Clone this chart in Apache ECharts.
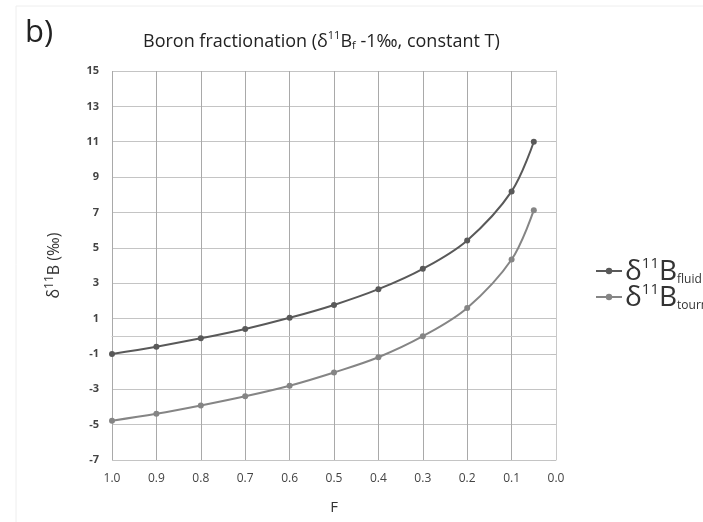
<!DOCTYPE html>
<html>
<head>
<meta charset="utf-8">
<script src="https://cdn.jsdelivr.net/npm/echarts@6/dist/echarts.min.js"></script>
<style>
  html, body { margin: 0; padding: 0; background: #fff; }
  #chart { width: 703px; height: 522px; }
</style>
</head>
<body>
<div id="chart"></div>
<script>
// Remaining fraction of boron in the fluid
const fraction = [1.0, 0.9, 0.8, 0.7, 0.6, 0.5, 0.4, 0.3, 0.2, 0.1, 0.05];
// δ11B of the fluid (‰)
const fluidValues = [-1.0, -0.59, -0.12, 0.41, 1.04, 1.77, 2.66, 3.81, 5.42, 8.19, 11.0];
// δ11B of tourmaline (‰)
const tourmalineValues = [-4.78, -4.39, -3.92, -3.40, -2.80, -2.05, -1.19, 0.0, 1.60, 4.34, 7.13];
// Axis ticks
const xTicks = [1.0, 0.9, 0.8, 0.7, 0.6, 0.5, 0.4, 0.3, 0.2, 0.1, 0.0];
const yTicks = [15, 13, 11, 9, 7, 5, 3, 1, -1, -3, -5, -7];

const fontFamily = "'Open Sans', 'Noto Sans', sans-serif";
const pairs = (ys) => fraction.map((f, i) => [f, ys[i]]);

const legendRich = {
  d: { fontSize: 28, fontFamily, color: '#333', lineHeight: 30, verticalAlign: 'bottom' },
  sup: { fontSize: 15, fontFamily, color: '#333', lineHeight: 30, verticalAlign: 'top' },
  sub: { fontSize: 12, fontFamily, color: '#333', lineHeight: 30, verticalAlign: 'bottom', padding: [10, 0, 0, 0] }
};

const chart = echarts.init(document.getElementById('chart'));
chart.setOption({
  backgroundColor: '#fff',
  animation: false,
  graphic: [
    { type: 'rect', shape: { x: 16, y: 6, width: 700, height: 530 }, style: { fill: 'none', stroke: '#eeeeee', lineWidth: 1 } },
    { type: 'text', left: 25, top: 18, style: { text: 'b)', fontSize: 31, fontFamily, fill: '#222' } }
  ],
  title: {
    text: '{t|Boron fractionation (δ}{s|11}{t|B}{b|f}{t| -1‰, constant T)}',
    left: 138,
    top: 22,
    textStyle: {
      fontWeight: 'normal',
      rich: {
        t: { fontSize: 18, fontWeight: 'normal', fontFamily, color: '#222', lineHeight: 24, verticalAlign: 'bottom' },
        s: { fontSize: 11, fontWeight: 'normal', fontFamily, color: '#222', lineHeight: 24, verticalAlign: 'top', padding: [3, 0, 0, 0] },
        b: { fontSize: 11, fontWeight: 'normal', fontFamily, color: '#222', lineHeight: 24, verticalAlign: 'bottom', padding: [7, 0, 0, 0] }
      }
    }
  },
  legend: {
    orient: 'vertical',
    left: 590,
    top: 251,
    itemWidth: 26,
    itemHeight: 8,
    itemGap: -4,
    data: ['fluid', 'tourmaline'],
    formatter: (name) => '{d|δ}{sup|11}{d|B}{sub|' + name + '}',
    textStyle: { rich: legendRich, padding: [0, 0, 0, -2] }
  },
  grid: { left: 112, right: 147, top: 71, bottom: 62, containLabel: false },
  xAxis: {
    type: 'value',
    inverse: true,
    min: 0,
    max: 1,
    interval: 0.1,
    name: 'F',
    nameLocation: 'middle',
    nameGap: 40,
    nameTextStyle: { fontSize: 15, fontFamily, color: '#333' },
    axisLine: { show: true, lineStyle: { color: '#c8c8c8', width: 1 } },
    axisTick: { show: false },
    axisLabel: { fontSize: 12, fontFamily, color: '#444', margin: 13, formatter: (v) => v.toFixed(1) },
    splitLine: { show: true, lineStyle: { color: '#a9a9a9', width: 1 } }
  },
  yAxis: {
    type: 'value',
    min: -7,
    max: 15,
    interval: 2,
    name: '{t|δ}{s|11}{t|B (‰)}',
    nameLocation: 'middle',
    nameGap: 50,
    nameRotate: 90,
    nameTextStyle: {
      rich: {
        t: { fontSize: 16, fontFamily, color: '#333', lineHeight: 18, verticalAlign: 'bottom' },
        s: { fontSize: 12, fontFamily, color: '#333', lineHeight: 18, verticalAlign: 'top' }
      }
    },
    axisLine: { show: true, lineStyle: { color: '#c8c8c8', width: 1 } },
    axisTick: { show: true, length: 5, lineStyle: { color: '#c0c0c0' } },
    axisLabel: { fontSize: 11, fontWeight: 'bold', fontFamily, color: '#444', margin: 13 },
    splitLine: { show: true, lineStyle: { color: '#c4c4c4', width: 1 } }
  },
  series: [
    {
      name: 'fluid',
      type: 'line',
      data: pairs(fluidValues),
      smooth: 0.35,
      symbol: 'circle',
      symbolSize: 6,
      lineStyle: { color: '#595959', width: 2 },
      itemStyle: { color: '#595959' }
    },
    {
      name: 'tourmaline',
      type: 'line',
      data: pairs(tourmalineValues),
      smooth: 0.35,
      symbol: 'circle',
      symbolSize: 6,
      lineStyle: { color: '#858585', width: 2 },
      itemStyle: { color: '#858585' }
    }
  ]
});
</script>
</body>
</html>
